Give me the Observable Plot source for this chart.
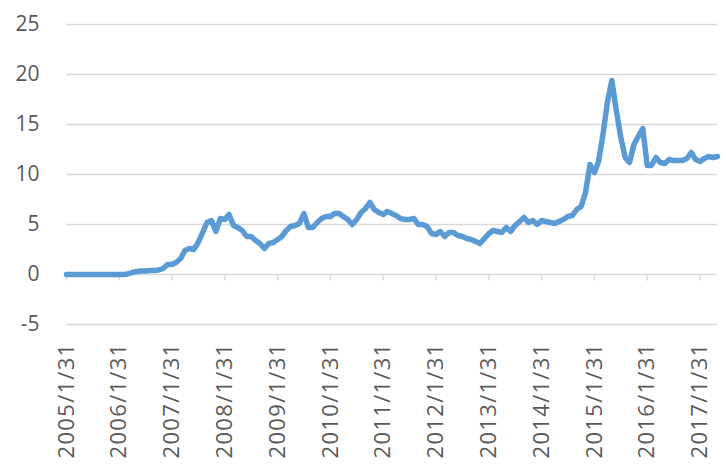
<!DOCTYPE html>
<html>
<head>
<meta charset="utf-8">
<script src="https://cdn.jsdelivr.net/npm/d3@7"></script>
<script src="https://cdn.jsdelivr.net/npm/@observablehq/plot@0.6"></script>
<style>
  html, body { margin: 0; padding: 0; background: #fff; }
  #chart { width: 726px; height: 471px; }
  g[aria-label="x-axis tick label"] text { letter-spacing: 1.3px; }
</style>
</head>
<body>
<div id="chart"></div>
<script>
// Monthly series, starting 2005/1/31, one value per month-end
const startMonth = "2005-01";
const values = [
  0, 0, 0, 0, 0, 0, 0, 0, 0, 0, 0, 0,
  0, 0, 0.05, 0.2, 0.3, 0.35, 0.35, 0.4, 0.4, 0.45, 0.6, 1.0,
  1.0, 1.2, 1.6, 2.4, 2.6, 2.5, 3.2, 4.2, 5.2, 5.4, 4.3, 5.6,
  5.5, 6.0, 4.9, 4.7, 4.4, 3.8, 3.8, 3.4, 3.1, 2.6, 3.1, 3.2,
  3.5, 3.8, 4.4, 4.8, 4.9, 5.1, 6.1, 4.7, 4.7, 5.2, 5.6, 5.8,
  5.8, 6.1, 6.1, 5.8, 5.5, 5.0, 5.5, 6.2, 6.6, 7.2, 6.5, 6.2,
  6.0, 6.3, 6.1, 5.9, 5.6, 5.5, 5.5, 5.6, 5.0, 5.0, 4.8, 4.1,
  4.0, 4.3, 3.8, 4.2, 4.2, 3.9, 3.8, 3.6, 3.5, 3.3, 3.1, 3.6,
  4.1, 4.4, 4.3, 4.2, 4.7, 4.3, 4.9, 5.3, 5.7, 5.2, 5.4, 5.0,
  5.4, 5.3, 5.2, 5.1, 5.3, 5.5, 5.8, 5.9, 6.5, 6.8, 8.2, 11.0,
  10.2, 11.3, 14.0, 17.2, 19.4, 16.5, 13.8, 11.7, 11.2, 13.0, 13.8, 14.6,
  10.9, 10.9, 11.7, 11.2, 11.1, 11.5, 11.4, 11.4, 11.4, 11.6, 12.2, 11.5,
  11.3, 11.6, 11.8, 11.7, 11.8
];
const xTickLabels = [
  "2005/1/31", "2006/1/31", "2007/1/31", "2008/1/31", "2009/1/31",
  "2010/1/31", "2011/1/31", "2012/1/31", "2013/1/31", "2014/1/31",
  "2015/1/31", "2016/1/31", "2017/1/31"
];
const yTicks = [-5, 0, 5, 10, 15, 20, 25];

const parseLabel = s => { const [y, m, d] = s.split("/").map(Number); return new Date(Date.UTC(y, m - 1, d)); };
const start = d3.utcParse("%Y-%m")(startMonth);
const data = values.map((v, i) => ({
  date: d3.utcDay.offset(d3.utcMonth.offset(start, i + 1), -1),
  value: v
}));
const xTicks = xTickLabels.map(parseLabel);
const labelOf = new Map(xTicks.map((d, i) => [+d, xTickLabels[i]]));

const chart = Plot.plot({
  width: 726,
  height: 471,
  marginLeft: 66,
  marginRight: 9,
  marginTop: 24,
  marginBottom: 147,
  style: { fontFamily: "'Open Sans', sans-serif", color: "#595959", background: "#fff" },
  x: { type: "utc", domain: [data[0].date, data[data.length - 1].date], label: null },
  y: { domain: [-5, 25], label: null },
  marks: [
    Plot.ruleY(yTicks, { stroke: "#d9d9d9", strokeWidth: 1.5 }),
    Plot.ruleX(xTicks, { x: d => d, y1: 0, y2: -0.65, stroke: "#d9d9d9", strokeWidth: 1.5 }),
    Plot.axisY({ ticks: yTicks, tickSize: 0, tickPadding: 27, fontSize: 21, fill: "#595959", label: null, tickFormat: d => String(d) }),
    Plot.axisX({ ticks: xTicks, tickSize: 0, tickPadding: 18, tickRotate: -90, fontSize: 22, fill: "#595959", label: null, tickFormat: d => labelOf.get(+d) }),
    Plot.line(data, { x: "date", y: "value", stroke: "#5B9BD5", strokeWidth: 5.5, strokeLinejoin: "round", strokeLinecap: "round", curve: "linear" })
  ]
});
document.getElementById("chart").appendChild(chart);
</script>
</body>
</html>
